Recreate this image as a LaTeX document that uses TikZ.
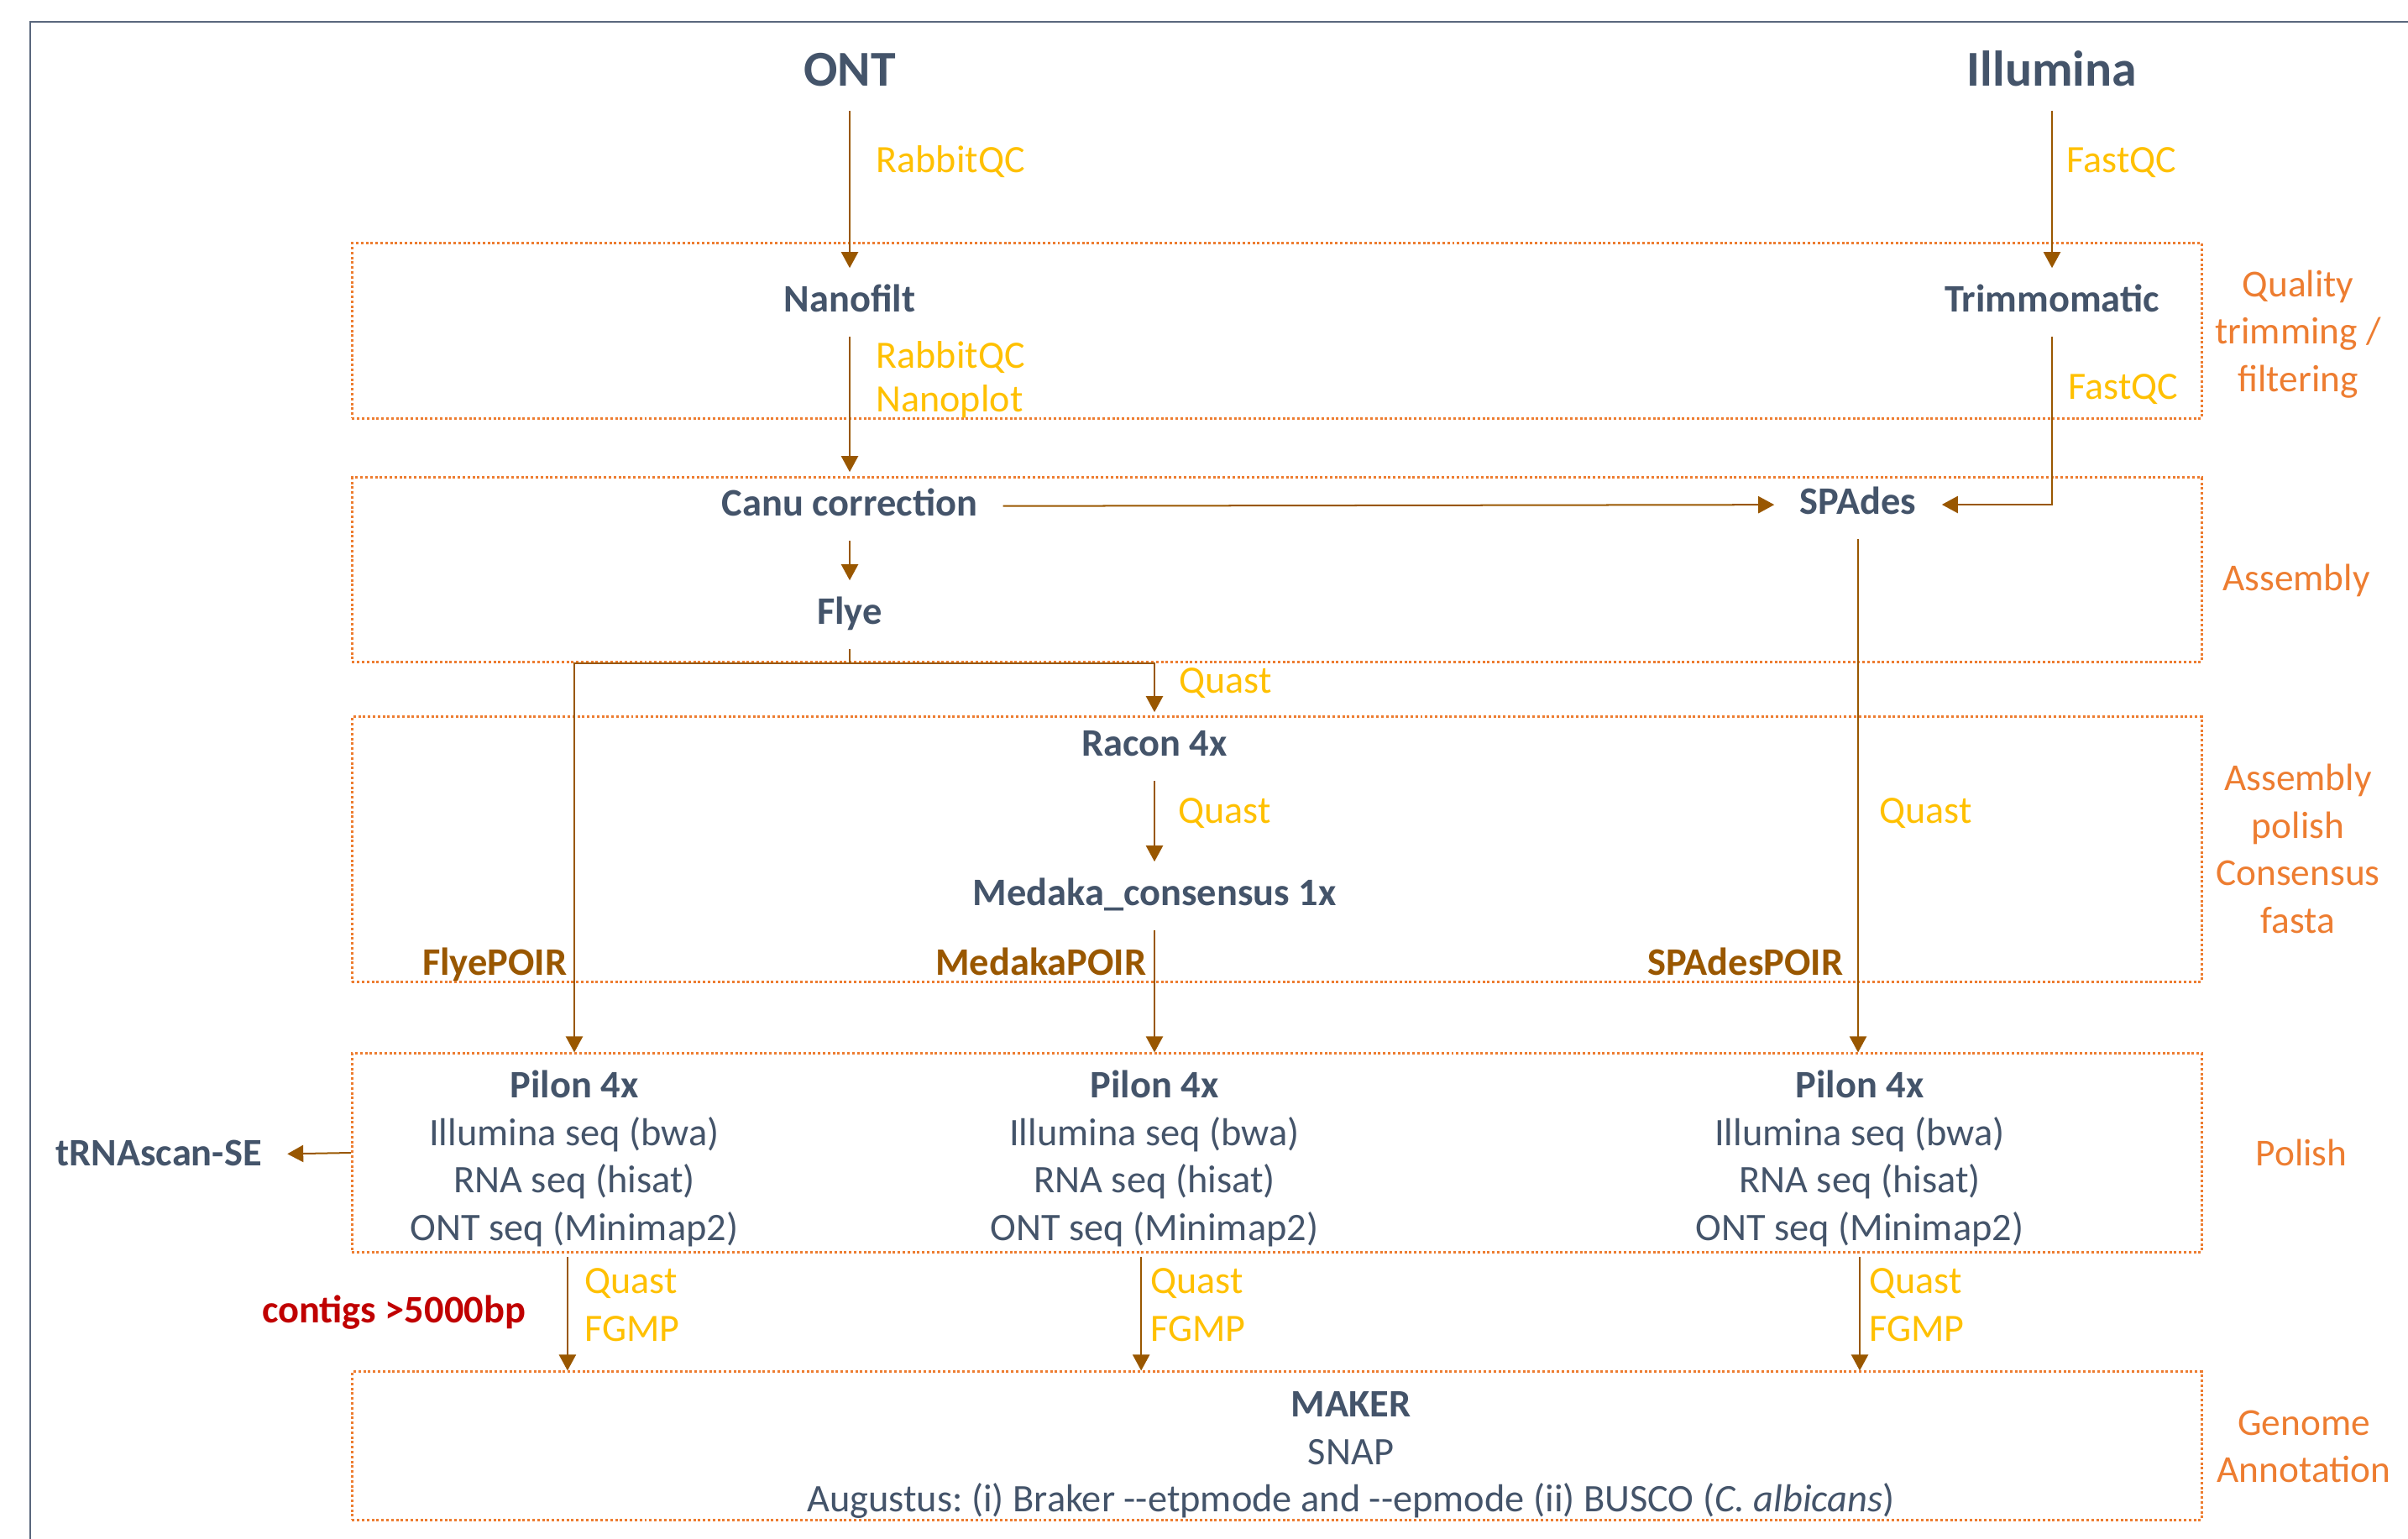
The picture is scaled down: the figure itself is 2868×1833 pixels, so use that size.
\documentclass[tikz,border=0pt]{standalone}
\usepackage{fontspec}
\setmainfont{Carlito}
\usepackage{xcolor}
\usepackage{tikz}
\usetikzlibrary{arrows.meta}

\definecolor{slate}{RGB}{68,84,106}
\definecolor{qcyellow}{RGB}{255,192,0}
\definecolor{stageorange}{RGB}{237,125,49}
\definecolor{flowbrown}{RGB}{153,87,0}
\definecolor{hotred}{RGB}{192,0,0}
\definecolor{framegray}{RGB}{90,103,125}

\begin{document}
\begin{tikzpicture}[x=0.01cm,y=-0.01cm,
                    >={Triangle[length=5.4pt,width=5.7pt]},
                    font=\fontsize{13.2}{16.1}\selectfont]
\tikzstyle{every node}=[text=slate]
\tikzstyle{tool}=[font=\fontsize{13.2}{16.1}\selectfont\bfseries,
                  text height=9.2pt, text depth=2.6pt,
                  inner xsep=8.5pt, inner ysep=5.5pt]
\tikzstyle{source}=[tool, font=\fontsize{17}{20}\selectfont\bfseries,
                    text height=11.9pt, text depth=3.4pt, inner ysep=4.6pt]
\tikzstyle{pilon}=[align=center]
\tikzstyle{stage}=[draw=stageorange, line width=0.85pt,
                   dash pattern=on 0.85pt off 0.8pt, inner sep=0pt,
                   minimum width=22.02cm]
\tikzstyle{qc}=[text=qcyellow, font=\fontsize{13.1}{16.1}\selectfont,
                anchor=base west, inner sep=0pt]
\tikzstyle{qcpair}=[qc, anchor=west, align=left]
\tikzstyle{phase}=[text=stageorange, font=\fontsize{12.9}{16.1}\selectfont,
                   align=center, inner sep=0pt]
\tikzstyle{poir}=[text=flowbrown, font=\fontsize{13.2}{16.1}\selectfont\bfseries,
                  anchor=base east, inner sep=0pt]
\tikzstyle{flow}=[->, flowbrown, line width=0.57pt]

\useasboundingbox (0,0) rectangle (2868,1833);
\draw[framegray, line width=0.85pt] (36,1833) -- (36,26) -- (2868,26);

\node[stage, minimum height=2.08cm] (qbox) at (1521,394) {};
\node[stage, minimum height=2.19cm] (abox) at (1521,678.5) {};
\node[stage, minimum height=3.15cm] (pbox) at (1521,1011.5) {};
\node[stage, minimum height=2.36cm] (lbox) at (1521,1373) {};
\node[stage, minimum height=1.76cm] (gbox) at (1521,1722) {};

\node[source] (ont) at (1012,88) {ONT};
\node[source] (illumina) at (2444,88) {Illumina};
\node[tool] (nanofilt) at (1012,360) {Nanofilt};
\node[tool] (trimmo) at (2444,360) {Trimmomatic};
\node[tool] (canu) at (1012,603) {Canu correction};
\node[tool] (spades) at (2213,601) {SPAdes};
\node[tool] (flye) at (1012,732) {Flye};
\node[tool] (racon) at (1375,889) {Racon 4x};
\node[tool] (medaka) at (1375,1067) {Medaka\_consensus 1x};
\node[tool] (trna) at (189,1377) {tRNAscan-SE};

\node[pilon] (pilon1) at (684,1380)
  {\textbf{Pilon 4x}\\Illumina seq (bwa)\\RNA seq (hisat)\\ONT seq (Minimap2)};
\node[pilon] (pilon2) at (1375,1380)
  {\textbf{Pilon 4x}\\Illumina seq (bwa)\\RNA seq (hisat)\\ONT seq (Minimap2)};
\node[pilon] (pilon3) at (2215,1380)
  {\textbf{Pilon 4x}\\Illumina seq (bwa)\\RNA seq (hisat)\\ONT seq (Minimap2)};
\node[pilon] (maker) at (1609,1733)
  {\textbf{MAKER}\\SNAP\\Augustus:\ (i) Braker -{}-etpmode and -{}-epmode (ii) BUSCO (\textit{C. albicans})};

\node[qc] (qcont) at (1043,205) {RabbitQC};
\node[qc] (qcill) at (2461,205) {FastQC};
\node[qcpair, font=\fontsize{13.1}{14.8}\selectfont] (qcnano) at (1043,452) {RabbitQC\\Nanoplot};
\node[qc] (qctrim) at (2463,475) {FastQC};
\node[qc] (qcflye) at (1404,825) {Quast};
\node[qc] (qcracon) at (1403,980) {Quast};
\node[qc] (qcspades) at (2238,980) {Quast};
\node[qcpair] (qcpil1) at (696,1554) {Quast\\FGMP};
\node[qcpair] (qcpil2) at (1370,1554) {Quast\\FGMP};
\node[qcpair] (qcpil3) at (2226,1554) {Quast\\FGMP};

\node[poir] (flyepoir) at (676,1161) {FlyePOIR};
\node[poir] (medakapoir) at (1366,1161) {MedakaPOIR};
\node[poir] (spadespoir) at (2196,1161) {SPAdesPOIR};
\node[text=hotred, font=\fontsize{13.2}{16.1}\selectfont\bfseries,
      anchor=base, inner sep=0pt] (contigs) at (469,1575) {contigs >5000bp};

\node[phase] (phqual) at (2737,398) {Quality\\trimming /\\filtering};
\node[phase, anchor=base] (phasm) at (2735,703) {Assembly};
\node[phase] (phpolish) at (2737,1011) {Assembly\\polish\\Consensus\\fasta};
\node[phase, anchor=base] (phpil) at (2741,1388) {Polish};
\node[phase] (phgen) at (2744,1723) {Genome\\Annotation};

\path[flow] (ont) edge (nanofilt)
      (nanofilt) edge (canu)
      (canu) edge (flye) edge (spades)
      (illumina) edge (trimmo)
      (racon) edge (medaka)
      (lbox.west) edge (trna);
\draw[flow] (trimmo) |- (spades);
\draw[flow] (flye) -- (flye |- abox.south) -| (racon);
\draw[flow] (flye |- abox.south) -| (pilon1 |- lbox.north);
\draw[flow] (medaka) -- (medaka |- lbox.north);
\draw[flow] (spades) -- (spades |- lbox.north);
\draw[flow] ([xshift=-2.3pt]pilon1.south) -- ([xshift=-2.3pt]pilon1.south |- gbox.north);
\draw[flow] ([xshift=-4.5pt]pilon2.south) -- ([xshift=-4.5pt]pilon2.south |- gbox.north);
\draw[flow] (pilon3.south) -- (pilon3.south |- gbox.north);
\end{tikzpicture}
\end{document}
